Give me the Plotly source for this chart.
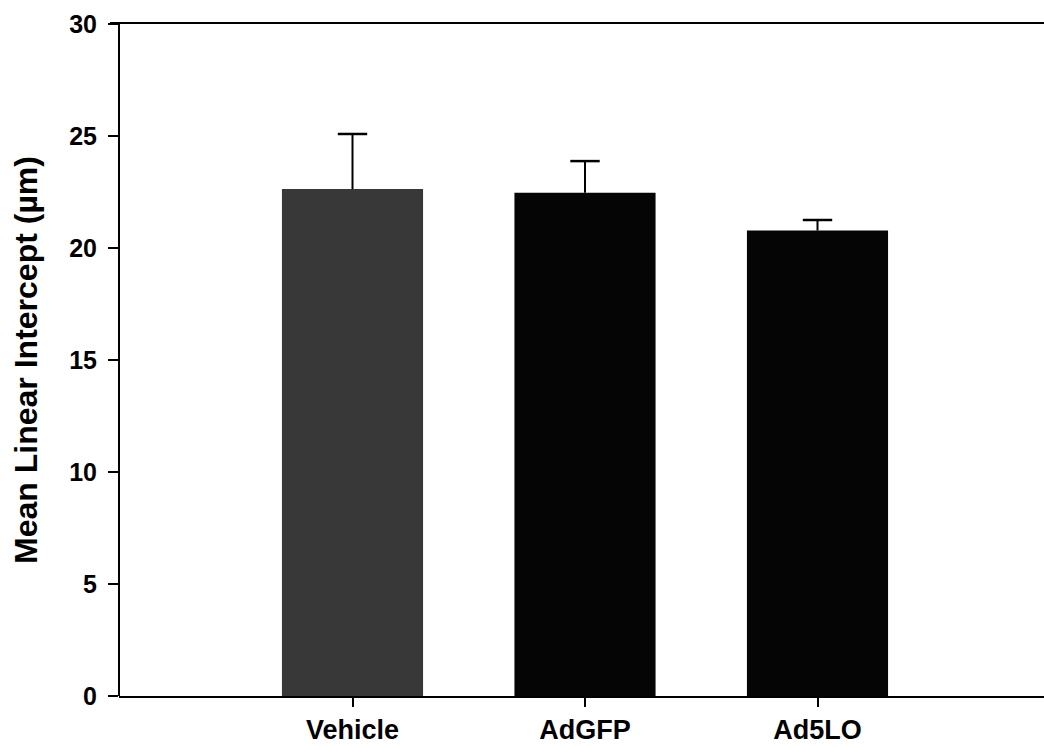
import plotly.graph_objects as go

categories = ["Vehicle", "AdGFP", "Ad5LO"]
means = [22.63, 22.47, 20.78]
errors_up = [2.46, 1.41, 0.47]
bar_colors = ["#383838", "#050505", "#050505"]
y_ticks = [0, 5, 10, 15, 20, 25, 30]

xpos = list(range(len(categories)))
err_tops = [m + e for m, e in zip(means, errors_up)]

fig = go.Figure()
fig.add_trace(go.Bar(
    x=xpos, y=means, width=0.607,
    marker=dict(color=bar_colors, line=dict(width=0)),
    showlegend=False, hoverinfo="skip",
))
fig.add_trace(go.Scatter(
    x=xpos, y=err_tops, mode="markers",
    marker=dict(symbol="line-ew", size=21, line=dict(color="black", width=2.5)),
    error_y=dict(type="data", symmetric=False, array=[0] * len(means),
                 arrayminus=errors_up, color="black", thickness=2, width=0),
    showlegend=False, hoverinfo="skip",
))

# plot area is 894 px wide; frame lines continue to the page edge (924 px)
plot_w = 894
plot_h = 672
edge = 924 / plot_w
fig.add_shape(type="line", xref="paper", yref="paper", x0=-10 / plot_w, x1=edge,
              y0=1 + 1 / plot_h, y1=1 + 1 / plot_h,
              line=dict(color="black", width=2), layer="above")
fig.add_shape(type="line", xref="paper", yref="paper", x0=-1 / plot_w, x1=edge,
              y0=-1 / plot_h, y1=-1 / plot_h,
              line=dict(color="black", width=2), layer="above")

font_family = "Liberation Sans, Arial, sans-serif"
fig.update_layout(
    width=1044, height=747,
    margin=dict(l=120, r=30, t=24, b=51, pad=0),
    paper_bgcolor="white", plot_bgcolor="white",
    font=dict(family=font_family, color="black"),
    xaxis=dict(
        range=[-1, -1 + plot_w / 232.5],
        tickmode="array", tickvals=xpos, ticktext=[f"<b>{c}</b>" for c in categories],
        ticks="outside", ticklen=10, tickwidth=2, tickcolor="black",
        tickfont=dict(size=27, family=font_family),
        showline=False,
        showgrid=False, zeroline=False, mirror=False, automargin=False,
    ),
    yaxis=dict(
        range=[0, 30],
        tickmode="array", tickvals=y_ticks, ticktext=[f"<b>{v}</b>" for v in y_ticks],
        ticks="outside", ticklen=10, tickwidth=2, tickcolor="black",
        tickfont=dict(size=25, family=font_family),
        ticklabelstandoff=6,
        showline=True, linecolor="black", linewidth=2, mirror=False,
        showgrid=False, zeroline=False, automargin=False,
        title=dict(text="<b>Mean Linear Intercept (µm)</b>",
                   font=dict(size=32, family=font_family), standoff=22),
    ),
)
fig.write_html("out.html", config={"displayModeBar": False})
